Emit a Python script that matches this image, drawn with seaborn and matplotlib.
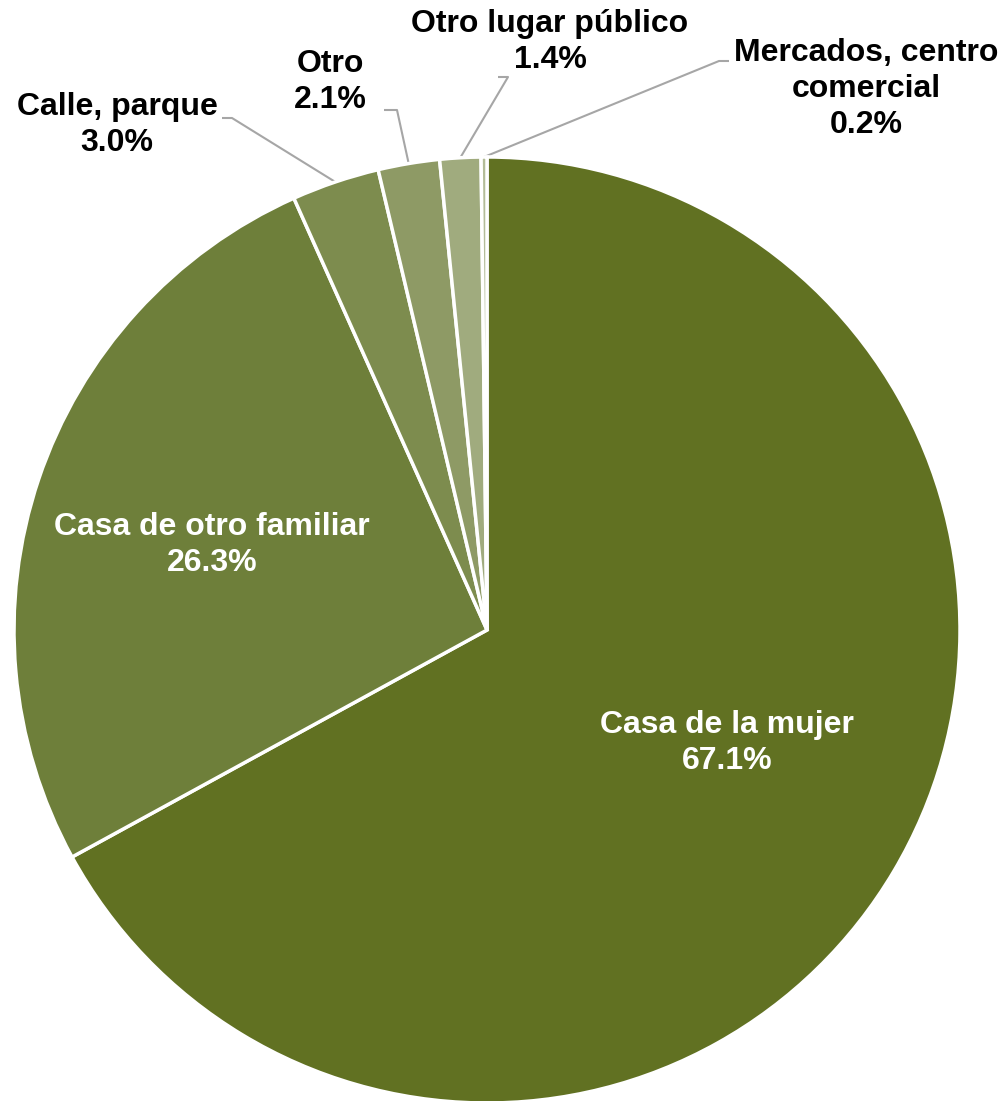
import numpy as np
import matplotlib
matplotlib.use("Agg")
import matplotlib.pyplot as plt
import seaborn as sns

categories = ["Casa de la mujer", "Casa de otro familiar", "Calle, parque", "Otro",
              "Otro lugar público", "Mercados, centro\ncomercial"]
values = [67.1, 26.3, 3.0, 2.1, 1.4, 0.2]
colors = ["#617122", "#6E7F3A", "#7D8C4E", "#8E9A65", "#A0AB7E", "#B3BC98"]

sns.set_theme(style="white")
plt.rcParams['font.family'] = ['Liberation Sans', 'DejaVu Sans']

W, H = 1007, 1101
fig = plt.figure(figsize=(W / 100, H / 100), dpi=100)
ax = fig.add_axes([0, 0, 1, 1])
ax.set_xlim(0, W)
ax.set_ylim(0, H)
ax.set_aspect("equal")
ax.axis("off")

cx, cy, R = 487, H - 630, 473
wedges, _ = ax.pie(values, colors=colors, startangle=90, counterclock=False,
                   center=(cx, cy), radius=R, normalize=True,
                   wedgeprops=dict(edgecolor="white", linewidth=2.5))
ax.set_xlim(0, W)
ax.set_ylim(0, H)

fs = 23
ls = 1.25
# inside labels
inside = {0: (727, 743), 1: (212, 545)}
for i, (x, y) in inside.items():
    ax.text(x, H - y, f"{categories[i]}\n{values[i]:.1f}%", ha="center", va="center",
            color="white", fontsize=fs, fontweight="bold", linespacing=ls)

# outside labels: (text center, elbow start, elbow end)
outside = {
    2: ((117, 125), (222, 118), (232, 118)),
    3: ((330, 82), (384, 110), (397, 110)),
    4: ((550, 42), (498, 77), (508, 77)),
    5: ((866, 89), (729, 61), (719, 61)),
}
for i, ((tx, ty), (ex, ey), (kx, ky)) in outside.items():
    ax.text(tx, H - ty, f"{categories[i]}\n{values[i]:.1f}%", ha="center", va="center",
            color="black", fontsize=fs, fontweight="bold", linespacing=ls)
    w = wedges[i]
    mid = np.deg2rad((w.theta1 + w.theta2) / 2)
    px, py = cx + R * np.cos(mid), cy + R * np.sin(mid)
    ax.plot([ex, kx, px], [H - ey, H - ky, py], color="#A6A6A6", lw=1.5,
            solid_capstyle="butt", zorder=0.5)

fig.savefig("out.png", dpi=100)
